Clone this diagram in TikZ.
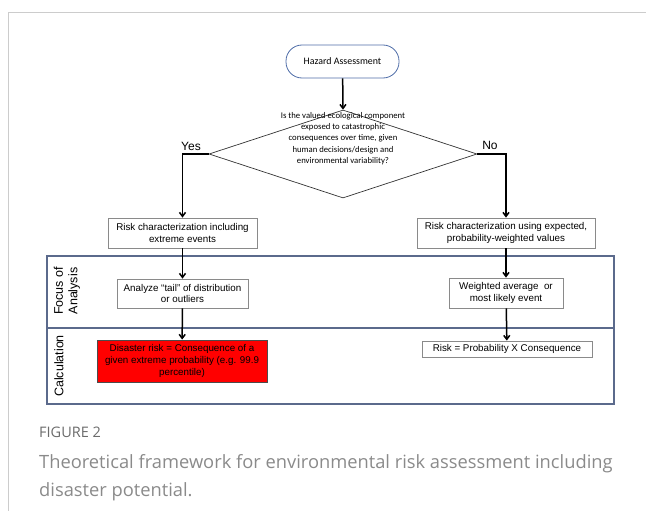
\documentclass[tikz,border=0pt]{standalone}
\usepackage{fontspec}
\setmainfont{Liberation Sans}
\newfontfamily\calibrifont{Carlito}
\newfontfamily\captionfont{Open Sans}
\usepackage{tikz}
\usetikzlibrary{arrows.meta,shapes.geometric}

\definecolor{startblue}{HTML}{4F6DA8}
\definecolor{panelblue}{HTML}{5B6A8C}
\definecolor{boxgray}{HTML}{8A8A8A}
\definecolor{capgray}{HTML}{8A8A8A}

\begin{document}
\begin{tikzpicture}[x=1pt, y=-1pt]
  \useasboundingbox (0,0) rectangle (646,511);

  \tikzset{
    frame line/.style={draw=black!20, line width=0.9pt},
    start node/.style={draw=startblue, line width=0.8pt, rounded corners=16pt,
      minimum width=113pt, minimum height=33pt, inner sep=0pt,
      font=\calibrifont\fontsize{9.9}{11}\selectfont},
    question node/.style={diamond, draw=black!80, line width=0.7pt,
      minimum width=268pt, minimum height=88pt, inner sep=0pt},
    question text/.style={align=center, inner sep=0pt,
      font=\calibrifont\fontsize{8.7}{11.2}\selectfont},
    step node/.style={draw=boxgray, line width=0.8pt, inner sep=0pt,
      align=center, font=\fontsize{9.8}{11.7}\selectfont},
    disaster node/.style={step node, draw=black!70, fill=red},
    branch label/.style={inner sep=0pt, font=\fontsize{12}{14}\selectfont},
    panel label/.style={rotate=90, align=center, inner sep=0pt,
      font=\fontsize{12.5}{14.5}\selectfont},
    panel line/.style={draw=panelblue, line width=1.1pt},
    flow arrow/.style={-{Straight Barb[length=4pt,width=6pt]}, line width=1.5pt},
  }

  % page frame
  \draw[frame line] (8,511) -- (8,12) -- (646,12);

  % top of the chart
  \node[start node] (hazard) at (342.5,61.5) {Hazard Assessment};
  \node[question node] (question) at (343,154) {};
  \node[question text] (qtext) at (343,138.5)
    {Is the valued ecological component\\exposed to catastrophic\\consequences over time, given\\human decisions/design and\\environmental variability?};
  \node[branch label] (yes) at (191,146) {Yes};
  \node[branch label] (no) at (490,145) {No};

  \node[step node, minimum width=149pt, minimum height=30pt] (extreme) at (182.5,233)
    {Risk characterization including\\extreme events};
  \node[step node, minimum width=178pt, minimum height=30pt] (expected) at (506,233)
    {Risk characterization using expected,\\probability-weighted values};

  % analysis panel
  \draw[panel line] (47,256) rectangle (614,404);
  \draw[panel line, line width=1.6pt] (47,328) -- (614,328);
  \node[panel label] (focus) at (67,291) {Focus of\\Analysis};
  \node[panel label] (calc) at (59,366) {Calculation};

  \node[step node, minimum width=131pt, minimum height=29pt] (tail) at (182.5,293.5)
    {Analyze ``tail'' of distribution\\or outliers};
  \node[step node, minimum width=114pt, minimum height=30pt] (average) at (506,293)
    {Weighted average~ or\\most likely event};
  \node[disaster node, minimum width=170pt, minimum height=42pt] (disaster) at (182,361)
    {Disaster risk = Consequence of a\\given extreme probability (e.g. 99.9\\percentile)};
  \node[step node, minimum width=170pt, minimum height=16pt] (riskprod) at (507,349)
    {Risk = Probability X Consequence};

  % connectors
  \draw[flow arrow] (hazard) -- (question.north);
  \draw[flow arrow] (question.west) -| (extreme.north);
  \draw[flow arrow] (question.east) -| (expected.north);
  \draw[flow arrow] (extreme) -- (tail);
  \draw[flow arrow] (tail) -- (disaster);
  \draw[flow arrow] (expected) -- (average);
  \draw[flow arrow] (average) -- (riskprod);

  % caption
  \node[anchor=base west, inner sep=0pt, text=black!58,
    font=\captionfont\fontsize{14.5}{16}\selectfont] (fig) at (39,437) {FIGURE 2};
  \node[anchor=base west, inner sep=0pt, text=capgray,
    font=\captionfont\fontsize{18.3}{22}\selectfont] (cap1) at (39,468)
    {Theoretical framework for environmental risk assessment including};
  \node[anchor=base west, inner sep=0pt, text=capgray,
    font=\captionfont\fontsize{18.3}{22}\selectfont] (cap2) at (39,496)
    {disaster potential.};
\end{tikzpicture}
\end{document}
